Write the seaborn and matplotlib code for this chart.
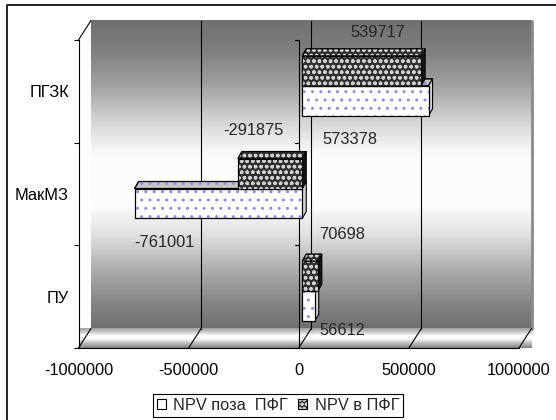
import numpy as np
import pandas as pd
import matplotlib
matplotlib.use("Agg")
import matplotlib.pyplot as plt
import matplotlib.patches as mpatches
from matplotlib.lines import Line2D
from matplotlib.legend_handler import HandlerTuple
import seaborn as sns

# ---------------- data ----------------
categories = ["ПГЗК", "МакМЗ", "ПУ"]
series_outside = "NPV поза  ПФГ"
series_inside = "NPV в ПФГ"
npv_outside = [573378, -761001, 56612]
npv_inside = [539717, -291875, 70698]
x_ticks = [-1000000, -500000, 0, 500000, 1000000]
x_tick_labels = ["-1000000", "-500000", "0", "500000", "1000000"]
# data-label anchor positions (x in value units, y in category units)
label_x_outside = [233000, -610000, 196000]
label_y_outside = [0.474, 1.477, 2.334]
label_x_inside = [360000, -208000, 196000]
label_y_inside = [-0.573, 0.377, 1.399]

df = pd.DataFrame({
    "cat": categories * 2,
    "series": [series_outside] * 3 + [series_inside] * 3,
    "value": npv_outside + npv_inside,
})

sns.set_theme(style="white")
plt.rcParams["font.family"] = ["Liberation Sans", "DejaVu Sans"]
plt.rcParams["hatch.linewidth"] = 1.0
FS = 11.8

W, H = 556, 420
fig = plt.figure(figsize=(W / 100, H / 100), dpi=100)
fig.patch.set_facecolor("white")
ax = fig.add_axes([78.5 / W, 1 - 348 / H, 440.5 / W, 308 / H])
ax.patch.set_alpha(0)

LIGHT = "#ffffff"
DARK = "#303030"
sns.barplot(data=df, y="cat", x="value", hue="series",
            hue_order=[series_inside, series_outside], order=categories,
            orient="h", width=0.584, ax=ax, legend=False, saturation=1,
            palette=[DARK, LIGHT], edgecolor="black", linewidth=0.8)

XMIN, XMAX = x_ticks[0], x_ticks[-1]
YTOP, YBOT = -0.5, len(categories) - 0.5
ax.set_autoscale_on(False)
ax.set_xlim(XMIN, XMAX)
ax.set_ylim(YBOT, YTOP)

sx = (XMAX - XMIN) / 440.5
sy = (YBOT - YTOP) / 308.0


def dd(dx, dy):
    return dx * sx, dy * sy


BAR_OFF = dd(3.5, -5.5)
BACK_OFF = dd(12.5, -19.5)
DEPTH = dd(4, -7)
bx, by = BACK_OFF

# ---------------- back wall gradient ----------------
N = 400
t = np.linspace(0, 1, N)
gy = np.array([20, 51, 85, 118, 151, 161, 205, 235, 268, 301, 328])
gv = np.array([0.44, 0.50, 0.63, 0.82, 0.97, 0.99, 0.99, 0.88, 0.69, 0.53, 0.44])
v = np.interp(t, (gy - 20) / 308.0, gv)
wall = np.dstack([v, v, v]).reshape(N, 1, 3)
ax.imshow(wall, extent=(XMIN + bx, XMAX + bx, YBOT + by, YTOP + by),
          aspect="auto", zorder=0.1, clip_on=False, interpolation="bilinear")
ax.set_xlim(XMIN, XMAX)
ax.set_ylim(YBOT, YTOP)

# ---------------- floor ----------------
fv = np.interp(np.linspace(0, 1, 100), [0, 0.2, 0.45, 0.62, 0.8, 1.0],
               [0.50, 0.70, 0.97, 1.0, 0.80, 0.62])
floor = np.dstack([fv, fv, fv]).reshape(100, 1, 3)
floor_poly = mpatches.Polygon([(XMIN, YBOT), (XMAX, YBOT), (XMAX + bx, YBOT + by),
                               (XMIN + bx, YBOT + by)], closed=True,
                              transform=ax.transData)
im = ax.imshow(floor, extent=(XMIN, XMAX + bx, YBOT, YBOT + by), aspect="auto",
               zorder=0.2, clip_on=False, interpolation="bilinear", origin="lower")
im.set_clip_path(floor_poly)
ax.set_xlim(XMIN, XMAX)
ax.set_ylim(YBOT, YTOP)

# back gridlines and floor lines
for xv in x_ticks:
    if XMIN < xv < XMAX:
        ax.plot([xv + bx, xv + bx], [YTOP + by, YBOT + by], color="black", lw=0.8,
                zorder=0.3, clip_on=False)
    ax.plot([xv, xv + bx], [YBOT, YBOT + by], color="black", lw=0.8, zorder=0.4,
            clip_on=False)
ax.plot([XMAX + bx, XMAX + bx], [YTOP + by, YBOT + by], color="#8a8a8a", lw=2,
        zorder=0.35, clip_on=False)
ax.plot([XMIN, XMIN + bx], [YTOP, YTOP + by], color="black", lw=0.8, zorder=0.4,
        clip_on=False)

# front zero (category) axis with ticks
ax.plot([0, 0], [YTOP, YBOT], color="black", lw=0.8, zorder=1, clip_on=False)
for bnd in np.arange(YTOP, YBOT + 0.01, 1.0):
    ax.plot([-4 * sx, 0], [bnd, bnd], color="black", lw=0.8, zorder=1, clip_on=False)

# ---------------- bars with 3D faces ----------------
styles = {
    0: dict(front=DARK, top=DARK, side="#151515", hatch="ooo", hcol="#d0d0d0",
            z=3.0),
    1: dict(front=LIGHT, top="#c4c4c4", side="#d4d4d4", hatch="..", hcol="#8c8cf0",
            z=2.0),
}
for ci, cont in enumerate(ax.containers):
    st = styles[ci]
    for rect in cont:
        rect.set_x(rect.get_x() + BAR_OFF[0])
        rect.set_y(rect.get_y() + BAR_OFF[1])
        rect.set_zorder(st["z"])
        rect.set_clip_on(False)
        x0 = min(rect.get_x(), rect.get_x() + rect.get_width())
        x1 = max(rect.get_x(), rect.get_x() + rect.get_width())
        yt = min(rect.get_y(), rect.get_y() + rect.get_height())
        yb = max(rect.get_y(), rect.get_y() + rect.get_height())
        dx, dy = DEPTH
        top = [(x0, yt), (x1, yt), (x1 + dx, yt + dy), (x0 + dx, yt + dy)]
        side = [(x1, yt), (x1, yb), (x1 + dx, yb + dy), (x1 + dx, yt + dy)]
        ax.add_patch(mpatches.Polygon(top, closed=True, facecolor=st["top"],
                                      edgecolor="black", lw=0.8, zorder=st["z"] - 0.1,
                                      clip_on=False))
        ax.add_patch(mpatches.Polygon(top, closed=True, facecolor="none",
                                      edgecolor=st["hcol"], lw=0, hatch=st["hatch"],
                                      zorder=st["z"] - 0.09, clip_on=False))
        ax.add_patch(mpatches.Polygon(top, closed=True, facecolor="none",
                                      edgecolor="black", lw=0.8, zorder=st["z"] - 0.08,
                                      clip_on=False))
        ax.add_patch(mpatches.Polygon(side, closed=True, facecolor=st["side"],
                                      edgecolor="black", lw=0.8, zorder=st["z"] - 0.05,
                                      clip_on=False))
        ax.add_patch(mpatches.Rectangle((x0, yt), x1 - x0, yb - yt, facecolor="none",
                                        edgecolor=st["hcol"], lw=0, hatch=st["hatch"],
                                        zorder=st["z"] + 0.01, clip_on=False))
        ax.add_patch(mpatches.Rectangle((x0, yt), x1 - x0, yb - yt, facecolor="none",
                                        edgecolor="black", lw=0.8,
                                        zorder=st["z"] + 0.02, clip_on=False))

# ---------------- data labels ----------------
for xv, yv, val in zip(label_x_inside, label_y_inside, npv_inside):
    ax.text(xv, yv, f"{val:d}", ha="center", va="center", fontsize=FS, zorder=6,
            clip_on=False)
for xv, yv, val in zip(label_x_outside, label_y_outside, npv_outside):
    ax.text(xv, yv, f"{val:d}", ha="center", va="center", fontsize=FS, zorder=6,
            clip_on=False)

# ---------------- axes ----------------
ax.set_xticks(x_ticks)
ax.set_xticklabels(x_tick_labels, fontsize=FS)
ax.set_yticks(np.arange(YTOP, YBOT + 0.01, 1.0))
ax.set_yticklabels([])
ax.set_yticks(range(len(categories)), minor=True)
ax.set_yticklabels(categories, minor=True, fontsize=FS)
ax.tick_params(axis="x", direction="out", length=3.3, width=0.8, color="black",
               pad=7.5, labelcolor="black")
ax.tick_params(axis="y", which="major", direction="out", length=3.3, width=0.8,
               color="black", left=True)
ax.tick_params(axis="y", which="minor", length=0, pad=7, labelcolor="black")
ax.set_xlabel("")
ax.set_ylabel("")
for s in ["top", "right"]:
    ax.spines[s].set_visible(False)
for s in ["left", "bottom"]:
    ax.spines[s].set_visible(True)
    ax.spines[s].set_color("black")
    ax.spines[s].set_linewidth(0.8)
    ax.spines[s].set_zorder(0.5)

# ---------------- legend ----------------
h_out = (mpatches.Patch(facecolor="white", edgecolor="none"),
         mpatches.Patch(facecolor="none", edgecolor="black", lw=0.8))
h_in = (mpatches.Patch(facecolor=DARK, edgecolor="none"),
        mpatches.Patch(facecolor="none", edgecolor="#d0d0d0", lw=0, hatch="oooo"),
        mpatches.Patch(facecolor="none", edgecolor="black", lw=0.8))
leg = fig.legend([h_out, h_in], [series_outside, series_inside], loc="center",
                 bbox_to_anchor=(278 / W, 1 - 405.5 / H), ncol=2, fontsize=FS,
                 handler_map={tuple: HandlerTuple(ndivide=1, pad=0)},
                 handlelength=0.55, handleheight=0.55, handletextpad=0.45,
                 columnspacing=0.65, borderpad=0.22, frameon=True, fancybox=False)
leg.get_frame().set_edgecolor("black")
leg.get_frame().set_linewidth(0.8)
leg.get_frame().set_alpha(1)

# outer chart border (left and top visible)
fig.add_artist(Line2D([7 / W, 7 / W, 1.0], [0.0, 1 - 5 / H, 1 - 5 / H],
                      transform=fig.transFigure, color="black", lw=1.2))

fig.savefig("out.png", dpi=100, facecolor="white")
